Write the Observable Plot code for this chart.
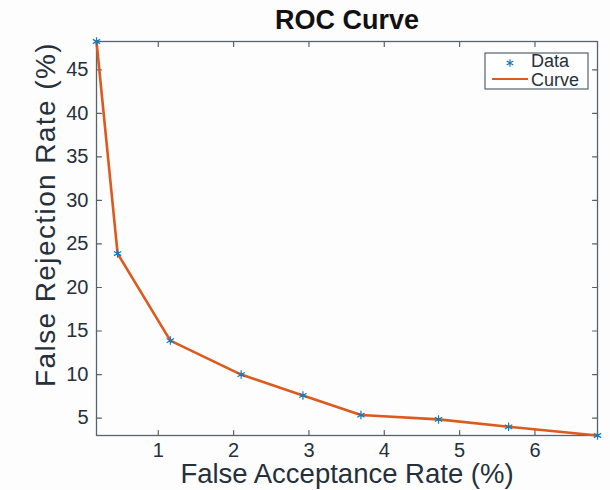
<!DOCTYPE html>
<html>
<head>
<meta charset="utf-8">
<script src="https://cdn.jsdelivr.net/npm/d3@7"></script>
<script src="https://cdn.jsdelivr.net/npm/@observablehq/plot@0.6"></script>
<style>
  html, body { margin: 0; padding: 0; background: #fdfdfe; }
  #chart { width: 610px; height: 490px; }
  svg { font-family: "Liberation Sans", Arial, Helvetica, sans-serif; }
</style>
</head>
<body>
<div id="chart"></div>
<script>
// Data
const far = [0.18, 0.46, 1.16, 2.10, 2.92, 3.69, 4.72, 5.65, 6.83];
const frr = [48.25, 23.9, 13.9, 10.0, 7.6, 5.35, 4.85, 4.0, 3.0];
const xTicks = [1, 2, 3, 4, 5, 6];
const yTicks = [5, 10, 15, 20, 25, 30, 35, 40, 45];
const titleText = "ROC Curve";
const xLabel = "False Acceptance Rate (%)";
const yLabel = "False Rejection Rate (%)";
const legendLabels = ["Data", "Curve"];

const points = far.map((x, i) => ({x, y: frr[i]}));
const xDom = d3.extent(far);
const yDom = d3.extent(frr);

const axisColor = "#56636f";
const textColor = "#25303a";
const curveColor = "#DC5A1C";
const dataColor = "#1277BD";

const tickShape = {draw(context, l) { context.moveTo(0, 0); context.lineTo(0, -l); }};
const tl = 5;

const plot = Plot.plot({
  width: 610,
  height: 490,
  marginLeft: 96,
  marginRight: 13,
  marginTop: 41,
  marginBottom: 55,
  style: {background: "transparent", color: textColor},
  x: {domain: xDom},
  y: {domain: yDom},
  marks: [
    Plot.frame({stroke: axisColor, strokeWidth: 1.3}),
    // inward ticks on all four sides
    Plot.vector(xTicks, {x: d => d, y: yDom[0], length: tl, rotate: 0, anchor: "start", shape: tickShape, stroke: axisColor, strokeWidth: 1.2}),
    Plot.vector(xTicks, {x: d => d, y: yDom[1], length: tl, rotate: 180, anchor: "start", shape: tickShape, stroke: axisColor, strokeWidth: 1.2}),
    Plot.vector(yTicks, {x: xDom[0], y: d => d, length: tl, rotate: 90, anchor: "start", shape: tickShape, stroke: axisColor, strokeWidth: 1.2}),
    Plot.vector(yTicks, {x: xDom[1], y: d => d, length: tl, rotate: -90, anchor: "start", shape: tickShape, stroke: axisColor, strokeWidth: 1.2}),
    Plot.axisX({ticks: xTicks, tickSize: 0, tickPadding: 7, fontSize: 20, label: null, tickFormat: d3.format("d")}),
    Plot.axisY({ticks: yTicks, tickSize: 0, tickPadding: 8, fontSize: 20, label: null, tickFormat: d3.format("d")}),
    Plot.line(points, {x: "x", y: "y", stroke: curveColor, strokeWidth: 2.6}),
    Plot.dot(points, {x: "x", y: "y", symbol: "asterisk", r: 4, stroke: dataColor, strokeWidth: 1.2}),
    Plot.text([titleText], {frameAnchor: "top", textAnchor: "middle", lineAnchor: "middle", dy: -21, fontSize: 27, fontWeight: "bold", fill: "#111"}),
    Plot.text([xLabel], {frameAnchor: "bottom", textAnchor: "middle", lineAnchor: "middle", dy: 39, fontSize: 27.5, fill: textColor}),
    Plot.text([yLabel], {frameAnchor: "left", textAnchor: "middle", lineAnchor: "middle", dx: -50, dy: -24, rotate: -90, fontSize: 28, fill: textColor})
  ]
});

const svg = d3.select(plot);
// stretch the y label slightly, as in the reference
svg.selectAll("text").filter(function() { return this.textContent === yLabel; })
  .attr("letter-spacing", "1.4px");

// Legend (inside the axes, top-right)
const lg = svg.append("g").attr("font-size", 18).attr("fill", textColor).attr("text-anchor", "start");
lg.append("rect").attr("x", 485).attr("y", 53).attr("width", 103).attr("height", 36)
  .attr("fill", "#ffffff").attr("stroke", axisColor).attr("stroke-width", 1.2);
lg.append("path").attr("d", d3.symbol(d3.symbolAsterisk, 40)()).attr("transform", "translate(510,63)")
  .attr("stroke", dataColor).attr("stroke-width", 1.2).attr("fill", "none");
lg.append("line").attr("x1", 492).attr("x2", 528).attr("y1", 79).attr("y2", 79)
  .attr("stroke", curveColor).attr("stroke-width", 2.2);
lg.append("text").attr("x", 531).attr("y", 67).attr("text-anchor", "start").text(legendLabels[0]);
lg.append("text").attr("x", 531).attr("y", 86).attr("text-anchor", "start").text(legendLabels[1]);

document.getElementById("chart").appendChild(plot);
</script>
</body>
</html>
